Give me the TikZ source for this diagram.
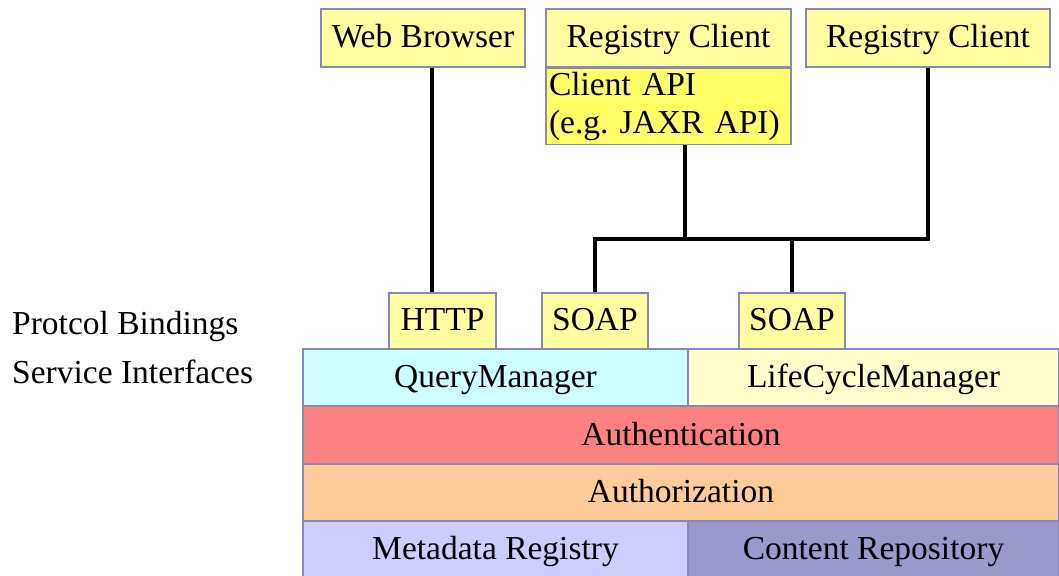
\documentclass[tikz,border=0pt]{standalone}
\usepackage{fontspec}
\setmainfont{Liberation Serif}
\usetikzlibrary{positioning, calc}
\definecolor{boxedge}{RGB}{136, 136, 187}
\definecolor{clientfill}{RGB}{255, 255, 160}
\definecolor{apifill}{RGB}{255, 255, 102}
\definecolor{queryfill}{RGB}{204, 255, 255}
\definecolor{lifefill}{RGB}{255, 255, 204}
\definecolor{authnfill}{RGB}{255, 128, 128}
\definecolor{authzfill}{RGB}{255, 204, 153}
\definecolor{metafill}{RGB}{204, 204, 255}
\definecolor{contentfill}{RGB}{153, 153, 204}
\frenchspacing

\begin{document}
\begin{tikzpicture}[x=1pt, y=-1pt,
  bigfont/.style={font=\fontsize{33.5}{38}\selectfont},
  cbox/.style={draw=boxedge, line width=1.5pt, fill=clientfill, inner sep=0pt, bigfont, text height=23pt, text depth=4pt},
  lbox/.style={draw=boxedge, line width=1.5pt, inner sep=0pt, minimum height=57pt, bigfont, text height=23pt, text depth=3pt},
  conn/.style={line width=4pt, line join=miter}
]
  \useasboundingbox (0,0) rectangle (1059,575);

  % clients
  \node[cbox, minimum width=204pt, minimum height=58pt] (web) at (423, 38) {Web Browser};
  \node[cbox, minimum width=245pt, minimum height=58pt] (regA) at (668.5, 38) {Registry Client};
  \node[draw=boxedge, line width=1.5pt, fill=apifill, inner sep=0pt, bigfont, minimum width=245pt, minimum height=76pt, text width=239pt, align=left, anchor=north] (api) at (regA.south) {Client API\\(e.g. JAXR API)};
  \node[cbox, minimum width=244pt, minimum height=58pt] (regB) at (928, 38) {Registry Client};

  % protocol bindings
  \node[cbox, minimum width=107pt, minimum height=56pt] (http) at (442.5, 321) {HTTP};
  \node[cbox, minimum width=106pt, minimum height=56pt] (soapA) at (595, 321) {SOAP};
  \node[cbox, minimum width=106pt, minimum height=56pt] (soapB) at (792, 321) {SOAP};

  % layers
  \node[lbox, fill=queryfill, minimum width=385pt] (query) at (495.5, 377.5) {QueryManager};
  \node[lbox, fill=lifefill, minimum width=371pt] (life) at (873.5, 377.5) {LifeCycleManager};
  \node[lbox, fill=authnfill, minimum width=756pt] (authn) at (681, 435) {Authentication};
  \node[lbox, fill=authzfill, minimum width=756pt] (authz) at (681, 492.5) {Authorization};
  \node[lbox, fill=metafill, minimum width=385pt] (meta) at (495.5, 549.5) {Metadata Registry};
  \node[lbox, fill=contentfill, minimum width=371pt] (content) at (873.5, 549.5) {Content Repository};

  \node[anchor=base west, inner sep=0pt, bigfont] (lblbind) at (12, 334) {Protcol Bindings};
  \node[anchor=base west, inner sep=0pt, bigfont] (lblserv) at (12, 383) {Service Interfaces};

  % connectors
  \coordinate (webx) at (432, 0);
  \coordinate (bus) at (685, 239);
  \draw[conn] (web.south -| webx) -- (http.north -| webx);
  \draw[conn] (api.south -| bus) -- (bus);
  \draw[conn] (regB.south) -- (regB.south |- bus) -- (soapA.north |- bus) -- (soapA.north);
  \draw[conn] (soapB.north |- bus) -- (soapB.north);
\end{tikzpicture}
\end{document}
